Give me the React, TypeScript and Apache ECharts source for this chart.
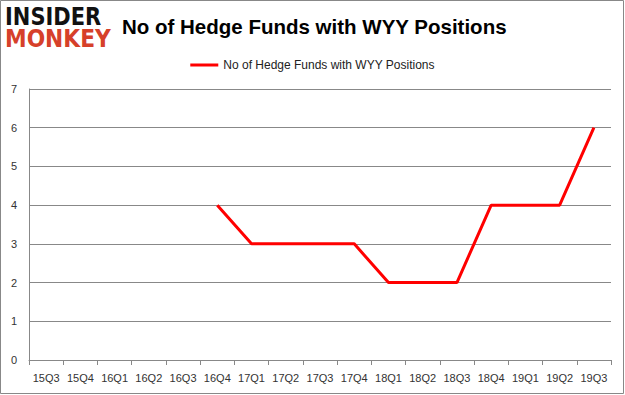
import React, { useEffect, useRef } from "react";
import * as echarts from "echarts";

const categories = ["15Q3", "15Q4", "16Q1", "16Q2", "16Q3", "16Q4", "17Q1", "17Q2", "17Q3", "17Q4", "18Q1", "18Q2", "18Q3", "18Q4", "19Q1", "19Q2", "19Q3"];
const hedgeFunds: (number | null)[] = [null, null, null, null, null, 4, 3, 3, 3, 3, 2, 2, 2, 4, 4, 4, 6];
const seriesName = "No of Hedge Funds with WYY Positions";
const titleText = "No of Hedge Funds with WYY Positions";

export default function App() {
  const ref = useRef<HTMLDivElement>(null);
  useEffect(() => {
    if (!ref.current) return;
    const chart = echarts.init(ref.current, null, { renderer: "svg" });
    chart.setOption({
      animation: false,
      backgroundColor: "#ffffff",
      title: {
        text: titleText,
        left: 117,
        top: 11,
        textStyle: { fontFamily: "Liberation Sans", fontWeight: "bold", fontSize: 20.5, color: "#000000" },
      },
      legend: {
        data: [seriesName],
        top: 54,
        left: "center",
        itemWidth: 28,
        itemHeight: 3,
        icon: "rect",
        itemGap: 4,
        textStyle: { fontFamily: "Liberation Sans", fontSize: 12, color: "#222" },
      },
      grid: { left: 29, right: 14, top: 89, bottom: 35 },
      xAxis: {
        type: "category",
        data: categories,
        boundaryGap: true,
        axisLine: { lineStyle: { color: "#888888", width: 1 } },
        axisTick: { show: true, alignWithLabel: false, length: 5, lineStyle: { color: "#888888" } },
        axisLabel: { fontFamily: "Liberation Sans", fontSize: 11, color: "#333333", margin: 12, interval: 0 },
      },
      yAxis: {
        type: "value",
        min: 0,
        max: 7,
        interval: 1,
        axisLine: { show: true, lineStyle: { color: "#888888" } },
        axisTick: { show: false },
        splitLine: { lineStyle: { color: "#888888", width: 1 } },
        axisLabel: { fontFamily: "Liberation Sans", fontSize: 11, color: "#333333", margin: 12 },
      },
      series: [
        {
          name: seriesName,
          type: "line",
          data: hedgeFunds,
          showSymbol: false,
          symbol: "none",
          lineStyle: { color: "#ff0000", width: 3 },
          itemStyle: { color: "#ff0000" },
        },
      ],
      graphic: [
        {
          type: "rect",
          shape: { x: 0.5, y: 0.5, width: 623, height: 393 },
          style: { fill: "none", stroke: "#888888", lineWidth: 1 },
          silent: true,
        },
        {
          type: "text",
          x: 5,
          y: 4,
          scaleX: 0.84,
          style: { text: "INSIDER", fontFamily: "DejaVu Sans", fontWeight: "bold", fontSize: 25, fill: "#111111" },
        },
        {
          type: "text",
          x: 5,
          y: 26,
          scaleX: 0.87,
          style: { text: "MONKEY", fontFamily: "DejaVu Sans", fontWeight: "bold", fontSize: 25, fill: "#d6402a" },
        },
      ],
    });
    return () => chart.dispose();
  }, []);
  return <div ref={ref} style={{ position: "fixed", left: 0, top: 0, width: 625, height: 395 }} />;
}
